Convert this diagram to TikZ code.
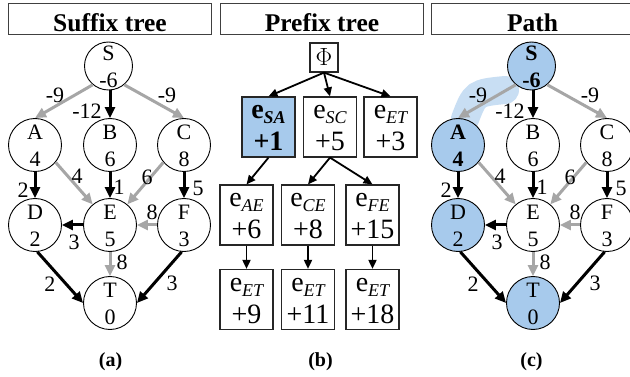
\documentclass[tikz,border=0pt]{standalone}
\usepackage{fontspec}
\setmainfont{Liberation Serif}
\usetikzlibrary{arrows.meta}

\definecolor{edgegray}{RGB}{166,166,166}
\definecolor{pathblue}{RGB}{167,202,236}
\definecolor{hazeblue}{RGB}{200,222,243}
\definecolor{framegray}{RGB}{64,64,64}

% subscript of an edge name, e.g. e_{SA}
\newcommand\edgesub[1]{\raisebox{-5pt}{\fontsize{18}{18}\selectfont\itshape #1}}

\tikzset{
  vtx/.style={circle, draw, line width=0.9pt, minimum size=53pt, inner sep=0pt,
    align=center, font=\fontsize{22}{27}\selectfont},
  root/.style={minimum size=48pt},
  onpath/.style={},
  onpathbold/.style={},
  elabel/.style={inner sep=0pt, font=\fontsize{22}{22}\selectfont},
  blackedge/.style={line width=3pt, -{Triangle[length=11pt,width=10pt]}},
  grayedge/.style={line width=3pt, draw=edgegray, -{Triangle[length=11pt,width=10pt]}},
  titlebox/.style={draw=framegray, line width=1pt, minimum width=203pt, minimum height=31pt,
    inner sep=0pt, text height=25pt, text depth=0pt,
    font=\fontsize{25.5}{25.5}\selectfont\bfseries},
  caption/.style={inner sep=0pt, font=\fontsize{20}{20}\selectfont\bfseries},
  pbox/.style={draw=black!85, line width=1.2pt, minimum width=53pt, minimum height=60pt,
    inner sep=0pt, align=center, font=\fontsize{28}{32}\selectfont},
  phibox/.style={draw=black!85, line width=1.2pt, minimum width=28pt, minimum height=29pt,
    inner sep=0pt, font=\fontsize{25}{25}\selectfont},
  treearrow/.style={line width=1.8pt, -{Triangle[length=9pt,width=8pt]}},
}

% the weighted graph with source S and sink T
\newcommand\costgraph{%
  \node[vtx, root, onpathbold] (S) at (108.5,66) {\rule{0pt}{17pt}S\\-6};
  \node[vtx, onpathbold] (A) at (35,145) {\rule{0pt}{17pt}A\\4};
  \node[vtx] (B) at (110,145) {\rule{0pt}{17pt}B\\6};
  \node[vtx] (C) at (184,145) {\rule{0pt}{17pt}C\\8};
  \node[vtx, onpath] (D) at (35,225) {\rule{0pt}{17pt}D\\2};
  \node[vtx] (E) at (110,225) {\rule{0pt}{17pt}E\\5};
  \node[vtx] (F) at (184,225) {\rule{0pt}{17pt}F\\3};
  \node[vtx, onpath] (T) at (110,303) {\rule{0pt}{17pt}T\\0};
  \draw[grayedge] (S.-130) -- (A.north);
  \draw[blackedge] (S.south -| B.north) -- (B.north);
  \draw[grayedge] (S.-50) -- (C.north);
  \draw[blackedge] (A) -- (D);
  \draw[grayedge] (A.-40) -- (E.130);
  \draw[blackedge] (B) -- (E);
  \draw[grayedge] (C.-140) -- (E.50);
  \draw[blackedge] (C) -- (F);
  \draw[blackedge] (E) -- (D);
  \draw[grayedge] (F) -- (E);
  \draw[grayedge] (E) -- (T);
  \draw[blackedge] (D.-85) -- (T.west);
  \draw[blackedge] (F.-95) -- (T.east);
  \node[elabel] (wSA) at (55,95) {-9};
  \node[elabel] (wSB) at (87,111) {-12};
  \node[elabel] (wSC) at (167,95) {-9};
  \node[elabel] (wAD) at (23,190) {2};
  \node[elabel] (wAE) at (77,176) {4};
  \node[elabel] (wBE) at (119,187) {1};
  \node[elabel] (wCE) at (147,177) {6};
  \node[elabel] (wCF) at (198,188) {5};
  \node[elabel] (wED) at (74,242) {3};
  \node[elabel] (wFE) at (152,212) {8};
  \node[elabel] (wET) at (122,262) {8};
  \node[elabel] (wDT) at (50,284) {2};
  \node[elabel] (wFT) at (172,283) {3};
}

\begin{document}
\begin{tikzpicture}[x=1pt,y=-1pt]
\useasboundingbox (0,0) rectangle (630,377);
\clip (0,0) rectangle (630,377);

% panel headings
\node[titlebox] (ha) at (110,19.5) {Suffix tree};
\node[titlebox] (hb) at (322,19.5) {Prefix tree};
\node[titlebox] (hc) at (532.5,19.5) {Path};

% (a) suffix tree
\begin{scope}[name prefix=a-]
  \costgraph
\end{scope}

% (b) prefix tree
\node[phibox] (phi) at (324,57.5) {$\Phi$};
\node[pbox, fill=pathblue, font=\fontsize{28}{32}\selectfont\bfseries] (sa) at (268.5,127)
  {\rule{0pt}{16pt}e\edgesub{SA}\\+1};
\node[pbox] (sc) at (330,127) {\rule{0pt}{16pt}e\edgesub{SC}\\+5};
\node[pbox] (et1) at (390.5,127) {\rule{0pt}{16pt}e\edgesub{ET}\\+3};
\node[pbox] (ae) at (246.5,215) {\rule{0pt}{16pt}e\edgesub{AE}\\+6};
\node[pbox] (ce) at (308,215) {\rule{0pt}{16pt}e\edgesub{CE}\\+8};
\node[pbox] (fe) at (372.5,215) {\rule{0pt}{16pt}e\edgesub{FE}\\+15};
\node[pbox] (aet) at (246.5,299.5) {\rule{0pt}{16pt}e\edgesub{ET}\\+9};
\node[pbox] (cet) at (308,299.5) {\rule{0pt}{16pt}e\edgesub{ET}\\+11};
\node[pbox] (fet) at (372.5,299.5) {\rule{0pt}{16pt}e\edgesub{ET}\\+18};
\draw[treearrow] (phi.south) -- (sa.north);
\draw[treearrow] (phi.south) -- (sc.north);
\draw[treearrow] (phi.south) -- (et1.north);
\draw[treearrow] (sa.south) -- (ae.north);
\draw[treearrow] (sc.south) -- (ce.north);
\draw[treearrow] (sc.south) -- (fe.north);
\draw[treearrow] (ae) -- (aet);
\draw[treearrow] (ce) -- (cet);
\draw[treearrow] (fe) -- (fet);

% (c) the chosen path S-A-D-T
\begin{scope}[xshift=423pt, name prefix=c-,
    onpath/.style={fill=pathblue},
    onpathbold/.style={fill=pathblue, font=\fontsize{22}{27}\selectfont\bfseries}]
  \draw[hazeblue, line width=28pt, line cap=round] (42,119) .. controls (52,93) .. (82,90);
  \costgraph
\end{scope}

% captions
\node[caption] (capa) at (110.5,362) {(a)};
\node[caption] (capb) at (320.5,362) {(b)};
\node[caption] (capc) at (531.5,362) {(c)};
\end{tikzpicture}
\end{document}
